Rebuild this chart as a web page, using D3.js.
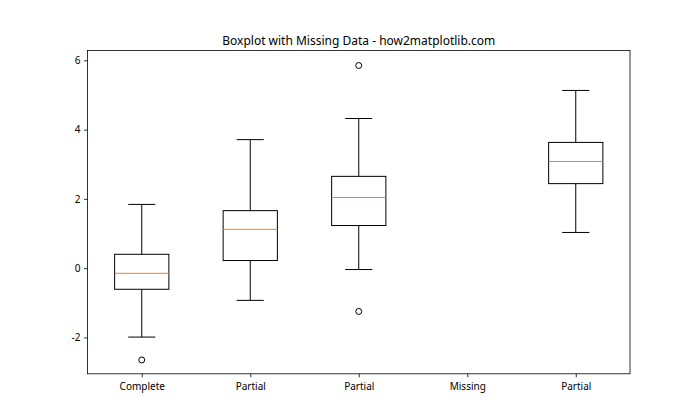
<!DOCTYPE html>
<html>
<head>
<meta charset="utf-8">
<script src="https://cdn.jsdelivr.net/npm/d3@7"></script>
<style>
  html, body { margin: 0; padding: 0; background: #fff; }
  svg { display: block; font-family: "Noto Sans", "Open Sans", sans-serif; }
</style>
</head>
<body>
<svg id="chart" width="700" height="420"></svg>
<script>
const title = "Boxplot with Missing Data - how2matplotlib.com";
const categories = ["Complete", "Partial", "Partial", "Missing", "Partial"];
// Box statistics per category (null = no data)
const whiskerLow  = [-1.99, -0.93, -0.04, null, 1.03];
const q1          = [-0.61,  0.22,  1.23, null, 2.44];
const median      = [-0.15,  1.12,  2.04, null, 3.08];
const q3          = [ 0.40,  1.66,  2.65, null, 3.63];
const whiskerHigh = [ 1.84,  3.71,  4.32, null, 5.13];
const outliers    = [[-2.65], [], [5.85, -1.25], [], []];
const yTicks = [-2, 0, 2, 4, 6];

const svg = d3.select("#chart");
const m = { left: 87.5, right: 630, top: 50.4, bottom: 373.8 };

const x = d3.scaleLinear().domain([0.5, 5.5]).range([m.left, m.right]);
const y = d3.scaleLinear().domain([-3.05, 6.286]).range([m.bottom, m.top]);

const boxW = x(1.25) - x(1);   // half-width of box (0.25 units)
const capW = boxW / 2;

const data = categories.map((c, i) => ({
  i, pos: i + 1, c,
  lo: whiskerLow[i], q1: q1[i], med: median[i], q3: q3[i], hi: whiskerHigh[i],
  out: outliers[i]
}));

// Title
svg.append("text")
  .attr("x", (m.left + m.right) / 2)
  .attr("y", 45)
  .attr("text-anchor", "middle")
  .attr("font-size", 12)
  .attr("fill", "#000")
  .text(title);

const g = svg.append("g");
const present = data.filter(d => d.med !== null);

present.forEach(d => {
  const cx = x(d.pos);
  g.append("line").attr("x1", cx).attr("x2", cx).attr("y1", y(d.q3)).attr("y2", y(d.hi))
    .attr("stroke", "#000").attr("stroke-width", 1);
  g.append("line").attr("x1", cx).attr("x2", cx).attr("y1", y(d.q1)).attr("y2", y(d.lo))
    .attr("stroke", "#000").attr("stroke-width", 1);
  g.append("line").attr("x1", cx - capW).attr("x2", cx + capW).attr("y1", y(d.hi)).attr("y2", y(d.hi))
    .attr("stroke", "#000").attr("stroke-width", 1);
  g.append("line").attr("x1", cx - capW).attr("x2", cx + capW).attr("y1", y(d.lo)).attr("y2", y(d.lo))
    .attr("stroke", "#000").attr("stroke-width", 1);
  g.append("rect").attr("x", cx - boxW).attr("width", 2 * boxW)
    .attr("y", y(d.q3)).attr("height", y(d.q1) - y(d.q3))
    .attr("fill", "none").attr("stroke", "#000").attr("stroke-width", 1);
  g.append("line").attr("x1", cx - boxW).attr("x2", cx + boxW).attr("y1", y(d.med)).attr("y2", y(d.med))
    .attr("stroke", "#ff7f0e").attr("stroke-width", 1);
  d.out.forEach(v => {
    g.append("circle").attr("cx", cx).attr("cy", y(v)).attr("r", 3)
      .attr("fill", "none").attr("stroke", "#000").attr("stroke-width", 1);
  });
});

// Axes
const xAxis = d3.axisBottom(x).tickValues([1, 2, 3, 4, 5])
  .tickFormat((d) => categories[d - 1]).tickSizeOuter(0).tickSize(3.5).tickPadding(5.5);
const yAxis = d3.axisLeft(y).tickValues(yTicks).tickFormat(d => String(d))
  .tickSizeOuter(0).tickSize(3.5).tickPadding(3.5);

const gx = svg.append("g").attr("transform", `translate(0,${m.bottom})`).call(xAxis);
const gy = svg.append("g").attr("transform", `translate(${m.left},0)`).call(yAxis);
[gx, gy].forEach(a => {
  a.select(".domain").remove();
  a.selectAll(".tick line").attr("stroke", "#000").attr("stroke-width", 0.8);
  a.selectAll(".tick text").attr("font-size", 10).attr("fill", "#000")
    .attr("font-family", '"Noto Sans", "Open Sans", sans-serif');
});

// frame
svg.append("rect").attr("x", m.left).attr("y", m.top)
  .attr("width", m.right - m.left).attr("height", m.bottom - m.top)
  .attr("fill", "none").attr("stroke", "#000").attr("stroke-width", 0.8);
</script>
</body>
</html>
